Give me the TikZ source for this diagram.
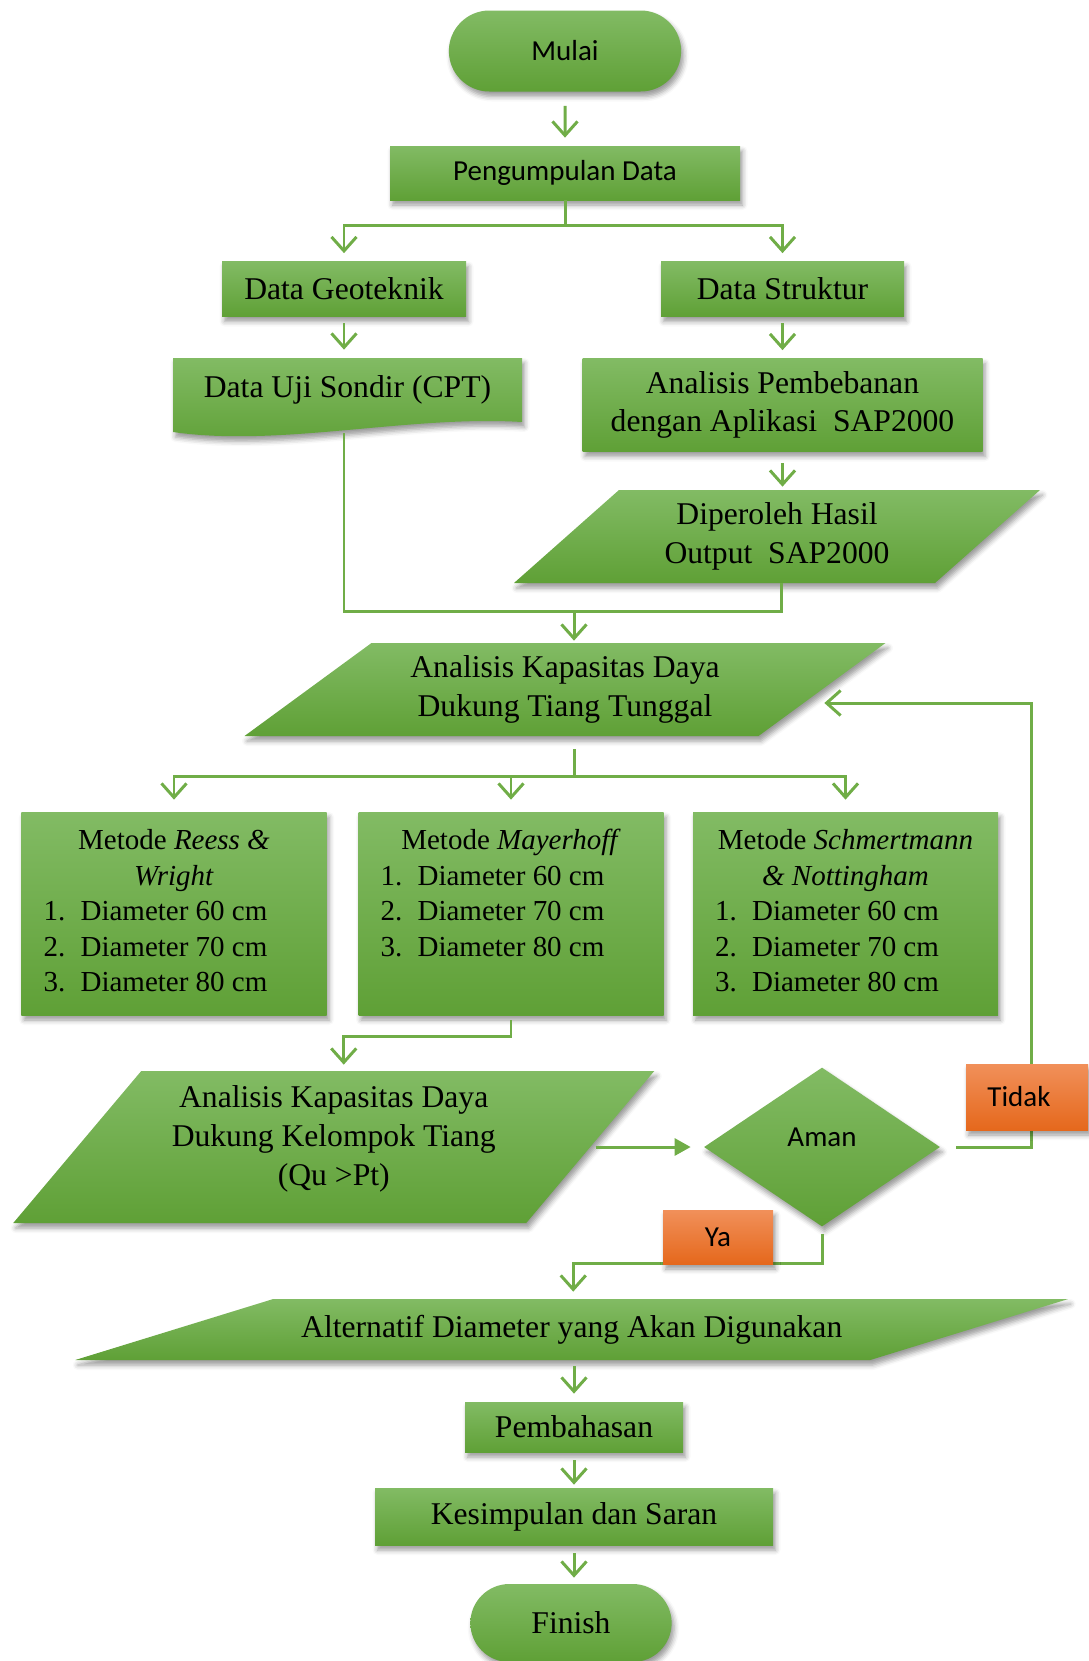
\documentclass[tikz,border=0pt]{standalone}
\usepackage{fontspec}
\setmainfont{Liberation Serif}
\newfontfamily\calibri{Carlito}
\usetikzlibrary{shapes.geometric,shapes.misc,shadows.blur,arrows.meta}

\definecolor{gtop}{RGB}{130,187,100}
\definecolor{gbot}{RGB}{95,160,54}
\definecolor{otop}{RGB}{241,144,90}
\definecolor{obot}{RGB}{229,104,28}
\definecolor{lgreen}{RGB}{112,173,71}

\begin{document}
\begin{tikzpicture}

    % Styles
    \tikzstyle{greenfill} = [top color=gtop, bottom color=gbot, draw=none, blur shadow={shadow xshift=0.05cm, shadow yshift=-0.1cm, shadow blur radius=0.1cm}]
    \tikzstyle{orangefill} = [top color=otop, bottom color=obot, draw=none, blur shadow={shadow xshift=0.05cm, shadow yshift=-0.1cm, shadow blur radius=0.1cm}]
    \tikzstyle{startstop} = [rounded rectangle, greenfill, text centered]
    \tikzstyle{process} = [rectangle, greenfill, align=center, font=\fontsize{18}{22}\selectfont]
    \tikzstyle{iotext} = [rectangle, align=center, inner sep=0pt, font=\fontsize{18}{22}\selectfont]
    \tikzstyle{method} = [rectangle, greenfill, minimum width=6.1cm, minimum height=4.06cm, inner sep=0pt, font=\fontsize{16.5}{20.2}\selectfont]
    \tikzstyle{decision} = [diamond, greenfill, inner sep=0pt, font=\calibri\fontsize{16.5}{20}\selectfont]
    \tikzstyle{answer} = [rectangle, orangefill, font=\calibri\fontsize{16.5}{20}\selectfont]
    \tikzstyle{link} = [draw=lgreen, line width=1.7pt]
    \tikzstyle{arrow} = [link, -{Straight Barb[length=0.28cm, width=0.5cm]}]
    \tikzstyle{arrowtri} = [link, -{Triangle[length=0.32cm, width=0.34cm]}]

    \useasboundingbox (0,0) rectangle (21.76,-33.22);

    % Shapes behind the text
    \path [greenfill] (3.46,-7.16) -- (10.44,-7.16) -- (10.44,-8.44)
        .. controls (8.18,-8.3) and (5.6,-8.95) .. (3.46,-8.64) -- cycle;
    \path [greenfill] (12.38,-9.80) -- (20.80,-9.80) -- (18.70,-11.66) -- (10.28,-11.66) -- cycle;
    \path [greenfill] (7.43,-12.86) -- (17.71,-12.86) -- (15.17,-14.72) -- (4.89,-14.72) -- cycle;
    \path [greenfill] (2.825,-21.42) -- (13.085,-21.42) -- (10.525,-24.46) -- (0.265,-24.46) -- cycle;
    \path [greenfill] (5.465,-25.98) -- (21.365,-25.98) -- (17.405,-27.2) -- (1.505,-27.2) -- cycle;

    % Nodes
    \node (mulai) [startstop, minimum width=4.88cm, minimum height=1.62cm, font=\calibri\fontsize{16.5}{20}\selectfont] at (11.3,-1.02) {Mulai};
    \node (kumpul) [process, minimum width=7cm, minimum height=1.08cm, font=\calibri\fontsize{16.5}{20}\selectfont] at (11.3,-3.46) {Pengumpulan Data};
    \node (geo) [process, minimum width=4.88cm, minimum height=1.1cm] at (6.88,-5.78) {Data Geoteknik};
    \node (struktur) [process, minimum width=4.86cm, minimum height=1.1cm] at (15.65,-5.78) {Data Struktur};
    \node (sondir) [iotext, minimum width=6.98cm, minimum height=1.28cm] at (6.95,-7.8) {Data Uji Sondir (CPT)};
    \node (beban) [process, minimum width=8cm, minimum height=1.86cm] at (15.65,-8.1) {Analisis Pembebanan\\dengan Aplikasi~ SAP2000};
    \node (hasil) [iotext, minimum width=8.42cm, minimum height=1.86cm] at (15.54,-10.73) {Diperoleh Hasil\\Output~ SAP2000};
    \node (tunggal) [iotext, minimum width=10.28cm, minimum height=1.86cm] at (11.3,-13.79) {Analisis Kapasitas Daya\\Dukung Tiang Tunggal};
    \node (reess) [method] at (3.48,-18.27) {%
        \begin{tabular}{@{}p{0.74cm}@{}l@{\hspace{0.74cm}}}
        \multicolumn{2}{@{}c@{}}{Metode \textit{Reess \&}}\\
        \multicolumn{2}{@{}c@{}}{\textit{Wright}}\\
        1. & Diameter 60 cm\\
        2. & Diameter 70 cm\\
        3. & Diameter 80 cm
        \end{tabular}};
    \node (mayer) [method] at (10.22,-18.27) {%
        \begin{tabular}{@{}p{0.74cm}@{}l@{\hspace{0.74cm}}}
        \multicolumn{2}{@{}c@{}}{Metode \textit{Mayerhoff}}\\
        1. & Diameter 60 cm\\
        2. & Diameter 70 cm\\
        3. & Diameter 80 cm\\[20.2pt]
        \end{tabular}};
    \node (schmert) [method] at (16.91,-18.27) {%
        \begin{tabular}{@{}p{0.74cm}@{}l@{\hspace{0.74cm}}}
        \multicolumn{2}{@{}c@{}}{Metode \textit{Schmertmann}}\\
        \multicolumn{2}{@{}c@{}}{\textit{\& Nottingham}}\\
        1. & Diameter 60 cm\\
        2. & Diameter 70 cm\\
        3. & Diameter 80 cm
        \end{tabular}};
    \node (kelompok) [iotext, minimum width=10.26cm, minimum height=3.04cm, text depth=0.46cm] at (6.675,-22.94) {Analisis Kapasitas Daya\\Dukung Kelompok Tiang\\(Qu >Pt)};
    \node (aman) [decision, minimum width=4.72cm, minimum height=3.18cm, text depth=0.38cm] at (16.44,-22.94) {Aman};
    \node (alternatif) [iotext, minimum width=15.9cm, minimum height=1.22cm] at (11.435,-26.59) {Alternatif Diameter yang Akan Digunakan};
    \node (bahas) [process, minimum width=4.36cm, minimum height=1cm] at (11.48,-28.54) {Pembahasan};
    \node (simpul) [process, minimum width=7.96cm, minimum height=1.14cm] at (11.48,-30.33) {Kesimpulan dan Saran};
    \node (finish) [startstop, minimum width=4.26cm, minimum height=1.56cm, font=\fontsize{18}{22}\selectfont] at (11.42,-32.46) {Finish};

    % Arrows
    \draw [arrow, shorten <=0.28cm, shorten >=0.16cm] (mulai) -- (kumpul);
    \draw [arrow, shorten >=0.16cm] (kumpul.south) -- ++(0,-0.5) -| (geo);
    \draw [arrow, shorten >=0.16cm] (kumpul.south) -- ++(0,-0.5) -| (struktur);
    \draw [arrow, shorten <=0.12cm, shorten >=0.16cm] (geo) -- (geo |- sondir.north);
    \draw [arrow, shorten <=0.12cm, shorten >=0.16cm] (struktur) -- (beban);
    \draw [arrow, shorten <=0.22cm, shorten >=0.06cm] (beban) -- (beban |- hasil.north);

    \coordinate (join1) at (11.48,-12.22);
    \draw [link] ([xshift=-0.07cm, yshift=-0.22cm]sondir.south) |- (join1);
    \draw [link] ([xshift=0.08cm]hasil.south) |- (join1);
    \draw [arrow, shorten >=0.04cm] (join1) -- (join1 |- tunggal.north);

    \coordinate (join2) at (11.48,-15.52);
    \draw [link, shorten <=0.26cm] ([xshift=0.18cm]tunggal.south) -- (join2);
    \draw [arrow, shorten >=0.24cm] (join2) -| (reess);
    \draw [arrow, shorten >=0.24cm] (join2) -| (mayer);
    \draw [arrow, shorten >=0.24cm] (join2) -| (schmert);

    \draw [arrow, shorten <=0.1cm, shorten >=0.12cm] (mayer.south) -- ++(0,-0.42) -| ([xshift=0.2cm]kelompok.north);
    \draw [arrowtri, shorten >=0.26cm] ([xshift=0.1cm]kelompok.east) -- (aman);
    \draw [arrow] ([xshift=0.32cm]aman.east) -- ++(1.5,0) |- ([xshift=0.04cm, yshift=-0.27cm]tunggal.east);
    \draw [arrow, shorten <=0.14cm, shorten >=0.14cm] (aman.south) -- ++(0,-0.74) -| ([xshift=0.03cm]alternatif.north);
    \draw [arrow, shorten <=0.12cm, shorten >=0.16cm] (bahas |- alternatif.south) -- (bahas);
    \draw [arrow, shorten <=0.16cm, shorten >=0.06cm] (bahas) -- (simpul);
    \draw [arrow, shorten <=0.16cm, shorten >=0.12cm] (simpul) -- (simpul |- finish.north);

    % Labels
    \node (tidak) [answer, minimum width=2.44cm, minimum height=1.32cm] at (20.54,-21.94) {Tidak\hspace*{0.32cm}};
    \node (ya) [answer, minimum width=2.2cm, minimum height=1.08cm] at (14.36,-24.74) {Ya};

\end{tikzpicture}
\end{document}
